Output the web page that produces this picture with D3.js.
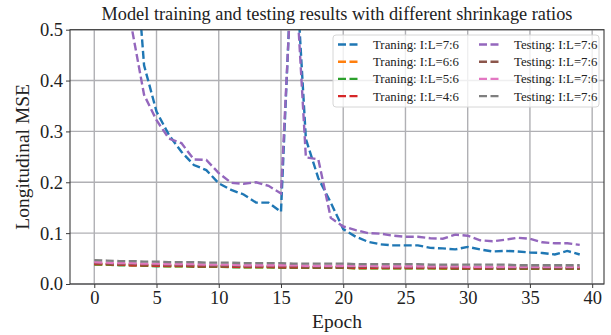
<!DOCTYPE html>
<html>
<head>
<meta charset="utf-8">
<script src="https://cdn.jsdelivr.net/npm/d3@7"></script>
<style>
  body { margin: 0; background: #fff; }
  text { font-family: "Liberation Serif", "Times New Roman", serif; fill: #222; }
</style>
</head>
<body>
<div class="chart"></div>
<script>
// chart data
let epochs = d3.range(0, 40);

let trainLabels = ["Traning: I:L=7:6", "Traning: I:L=6:6", "Traning: I:L=5:6", "Traning: I:L=4:6"];
let testLabels = ["Testing: I:L=7:6", "Testing: I:L=7:6", "Testing: I:L=7:6", "Testing: I:L=7:6"];

let train76 = [2.4, 1.5, 1.05, 0.75, 0.43, 0.339, 0.293, 0.26, 0.234, 0.224,
  0.198, 0.185, 0.176, 0.16, 0.16, 0.142, 0.71, 0.285, 0.208, 0.16,
  0.108, 0.093, 0.083, 0.078, 0.076, 0.076, 0.076, 0.071, 0.07, 0.068,
  0.073, 0.068, 0.064, 0.065, 0.064, 0.062, 0.061, 0.058, 0.065, 0.058];
let train66 = [0.039, 0.038, 0.038, 0.037, 0.036, 0.036, 0.035, 0.035, 0.035, 0.034,
  0.034, 0.034, 0.033, 0.033, 0.033, 0.033, 0.032, 0.032, 0.032, 0.032,
  0.032, 0.031, 0.031, 0.031, 0.031, 0.031, 0.031, 0.031, 0.030, 0.030,
  0.030, 0.030, 0.030, 0.030, 0.030, 0.030, 0.030, 0.030, 0.030, 0.030];
let train56 = [0.038, 0.038, 0.037, 0.037, 0.036, 0.035, 0.035, 0.035, 0.034, 0.034,
  0.034, 0.033, 0.033, 0.033, 0.033, 0.032, 0.032, 0.032, 0.032, 0.032,
  0.032, 0.031, 0.031, 0.031, 0.031, 0.031, 0.031, 0.031, 0.031, 0.030,
  0.030, 0.030, 0.030, 0.030, 0.030, 0.030, 0.030, 0.030, 0.030, 0.030];
let train46 = [0.039, 0.039, 0.038, 0.037, 0.037, 0.036, 0.036, 0.036, 0.035, 0.035,
  0.035, 0.034, 0.034, 0.034, 0.034, 0.033, 0.033, 0.033, 0.033, 0.033,
  0.033, 0.032, 0.032, 0.032, 0.032, 0.032, 0.032, 0.032, 0.032, 0.031,
  0.031, 0.031, 0.031, 0.031, 0.031, 0.031, 0.031, 0.031, 0.031, 0.031];
let test76a = [2.1, 1.3, 0.85, 0.505, 0.372, 0.322, 0.286, 0.277, 0.245, 0.244,
  0.218, 0.199, 0.197, 0.2, 0.193, 0.178, 0.68, 0.249, 0.245, 0.13,
  0.113, 0.106, 0.1, 0.099, 0.095, 0.093, 0.093, 0.09, 0.089, 0.097,
  0.095, 0.086, 0.084, 0.087, 0.091, 0.089, 0.082, 0.08, 0.08, 0.077];
let test76b = [0.041, 0.040, 0.039, 0.039, 0.038, 0.038, 0.037, 0.037, 0.037, 0.036,
  0.036, 0.036, 0.035, 0.035, 0.035, 0.035, 0.035, 0.034, 0.034, 0.034,
  0.034, 0.034, 0.034, 0.033, 0.033, 0.033, 0.033, 0.033, 0.033, 0.033,
  0.033, 0.033, 0.032, 0.032, 0.032, 0.032, 0.032, 0.032, 0.032, 0.032];
let test76c = [0.043, 0.042, 0.041, 0.041, 0.040, 0.040, 0.039, 0.039, 0.039, 0.038,
  0.038, 0.038, 0.037, 0.037, 0.037, 0.037, 0.037, 0.036, 0.036, 0.036,
  0.036, 0.036, 0.036, 0.035, 0.035, 0.035, 0.035, 0.035, 0.035, 0.035,
  0.034, 0.034, 0.034, 0.034, 0.034, 0.034, 0.034, 0.034, 0.034, 0.034];
let test76d = [0.047, 0.046, 0.045, 0.045, 0.044, 0.044, 0.043, 0.043, 0.043, 0.042,
  0.042, 0.042, 0.041, 0.041, 0.041, 0.041, 0.040, 0.040, 0.040, 0.040,
  0.040, 0.039, 0.039, 0.039, 0.039, 0.039, 0.039, 0.038, 0.038, 0.038,
  0.038, 0.038, 0.038, 0.038, 0.037, 0.037, 0.037, 0.037, 0.037, 0.037];

let xTicks = [0, 5, 10, 15, 20, 25, 30, 35, 40];
let yTicks = [0, 0.1, 0.2, 0.3, 0.4, 0.5];

let trainSeries = [train76, train66, train56, train46];
let testSeries = [test76a, test76b, test76c, test76d];
let trainColors = ["#1f77b4", "#ff7f0e", "#2ca02c", "#d62728"];
let testColors = ["#9467bd", "#8c564b", "#e377c2", "#7f7f7f"];

// chart area
let svgWidth = 611;
let svgHeight = 335;
let margin = { top: 29.7, right: 7, bottom: 51, left: 70 };
let width = svgWidth - margin.left - margin.right;
let height = svgHeight - margin.top - margin.bottom;

let svg = d3.select(".chart")
  .append("svg")
  .attr("width", svgWidth)
  .attr("height", svgHeight);

let chartGroup = svg.append("g")
  .attr("transform", `translate(${margin.left}, ${margin.top})`);

let xScale = d3.scaleLinear().domain([-1.95, 40.95]).range([0, width]);
let yScale = d3.scaleLinear().domain([0, 0.5]).range([height, 0]);

// grid
chartGroup.append("g")
  .selectAll("line.vgrid")
  .data(xTicks)
  .enter()
  .append("line")
  .attr("x1", d => xScale(d)).attr("x2", d => xScale(d))
  .attr("y1", 0).attr("y2", height)
  .attr("stroke", "#b0b0b4").attr("stroke-width", 1.4);

chartGroup.append("g")
  .selectAll("line.hgrid")
  .data(yTicks)
  .enter()
  .append("line")
  .attr("x1", 0).attr("x2", width)
  .attr("y1", d => yScale(d)).attr("y2", d => yScale(d))
  .attr("stroke", "#b0b0b4").attr("stroke-width", 1.4);

// clip lines to plot area
svg.append("defs").append("clipPath")
  .attr("id", "plotClip")
  .append("rect")
  .attr("width", width).attr("height", height);

let line = d3.line()
  .x((d, i) => xScale(epochs[i]))
  .y(d => yScale(d));

let allSeries = trainSeries.concat(testSeries);
let allColors = trainColors.concat(testColors);

chartGroup.append("g")
  .attr("clip-path", "url(#plotClip)")
  .selectAll("path")
  .data(allSeries)
  .enter()
  .append("path")
  .attr("d", d => line(d))
  .attr("fill", "none")
  .attr("stroke", (d, i) => allColors[i])
  .attr("stroke-width", 2.4)
  .attr("stroke-dasharray", "8,3.5");

// frame
chartGroup.append("rect")
  .attr("width", width).attr("height", height)
  .attr("fill", "none")
  .attr("stroke", "#3a3a3a")
  .attr("stroke-width", 1.1);

// axes
let bottomAxis = d3.axisBottom(xScale).tickValues(xTicks).tickSize(4).tickPadding(3);
let leftAxis = d3.axisLeft(yScale).tickValues(yTicks).tickSize(4).tickPadding(3)
  .tickFormat(d3.format(".1f"));

let xAxis = chartGroup.append("g")
  .attr("transform", `translate(0, ${height})`)
  .call(bottomAxis);
let yAxis = chartGroup.append("g").call(leftAxis);

[xAxis, yAxis].forEach(function(ax) {
  ax.select(".domain").remove();
  ax.selectAll(".tick line").attr("stroke", "#3a3a3a").attr("stroke-width", 1);
  ax.selectAll(".tick text")
    .attr("fill", "#222")
    .style("font-family", "'Liberation Serif', serif")
    .style("font-size", "18.5px");
});

// labels
svg.append("text")
  .attr("x", margin.left + width / 2)
  .attr("y", 19.5)
  .attr("text-anchor", "middle")
  .style("font-size", "18.3px")
  .text("Model training and testing results with different shrinkage ratios");

svg.append("text")
  .attr("x", margin.left + width / 2)
  .attr("y", 328)
  .attr("text-anchor", "middle")
  .style("font-size", "19.5px")
  .text("Epoch");

svg.append("text")
  .attr("transform", `translate(29, ${margin.top + height / 2}) rotate(-90)`)
  .attr("text-anchor", "middle")
  .style("font-size", "19.5px")
  .text("Longitudinal MSE");

// legend
let legend = svg.append("g").attr("transform", "translate(333, 35)");
legend.append("rect")
  .attr("width", 266).attr("height", 72).attr("rx", 3)
  .attr("fill", "#fff").attr("fill-opacity", 0.8)
  .attr("stroke", "#d6d6d6").attr("stroke-width", 1);

function legendColumn(labels, colors, x0) {
  let col = legend.append("g").attr("transform", `translate(${x0}, 0)`);
  let rows = col.selectAll("g")
    .data(labels)
    .enter()
    .append("g")
    .attr("transform", (d, i) => `translate(0, ${9.5 + i * 17.2})`);
  rows.append("line")
    .attr("x1", 0).attr("x2", 22)
    .attr("stroke", (d, i) => colors[i])
    .attr("stroke-width", 2.4)
    .attr("stroke-dasharray", "8,3.5");
  rows.append("text")
    .attr("x", 35)
    .attr("dy", "0.35em")
    .style("font-size", "12.8px")
    .text(d => d);
}
legendColumn(trainLabels, trainColors, 5);
legendColumn(testLabels, testColors, 146);
</script>
</body>
</html>
